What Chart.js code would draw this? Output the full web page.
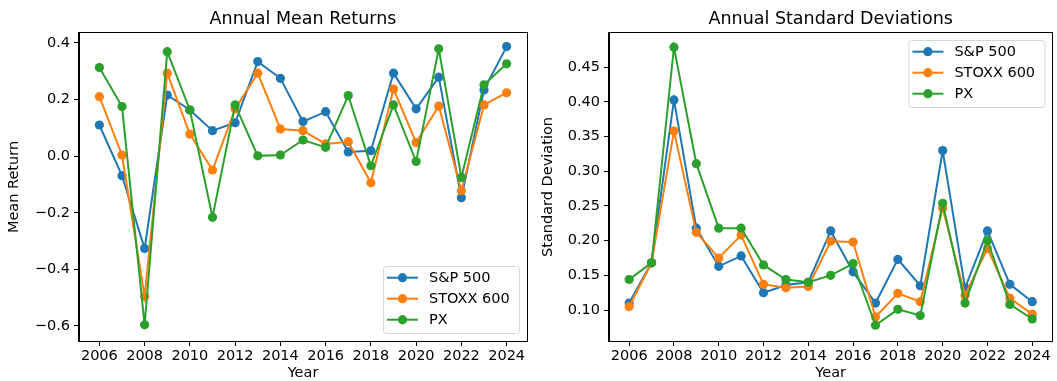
<!DOCTYPE html>
<html>
<head>
<meta charset="utf-8">
<script src="https://cdn.jsdelivr.net/npm/chart.js@4.4.1/dist/chart.umd.min.js"></script>
<style>
  html, body { margin: 0; padding: 0; background: #fff; overflow: hidden; }
  #wrap { position: relative; width: 1057px; height: 381px; }
  canvas { position: absolute; top: 0; }
</style>
</head>
<body>
<div id="wrap">
  <canvas id="returns" width="535" height="381" style="left:0"></canvas>
  <canvas id="stdev" width="522" height="381" style="left:535px"></canvas>
</div>
<script>
// ---- data -------------------------------------------------------------
const years = [2006, 2007, 2008, 2009, 2010, 2011, 2012, 2013, 2014, 2015,
               2016, 2017, 2018, 2019, 2020, 2021, 2022, 2023, 2024];
const yearTicks = [2006, 2008, 2010, 2012, 2014, 2016, 2018, 2020, 2022, 2024];
const seriesNames = ['S&P 500', 'STOXX 600', 'PX'];
const seriesColors = ['#1f77b4', '#ff7f0e', '#2ca02c'];

const meanSP    = [0.110, -0.069, -0.326, 0.216, 0.163, 0.090, 0.118, 0.334, 0.275, 0.122,
                   0.157, 0.015, 0.019, 0.293, 0.167, 0.279, -0.147, 0.234, 0.387];
const meanSTOXX = [0.210, 0.004, -0.496, 0.293, 0.078, -0.049, 0.167, 0.293, 0.096, 0.090,
                   0.043, 0.051, -0.094, 0.237, 0.048, 0.177, -0.122, 0.181, 0.224];
const meanPX    = [0.313, 0.175, -0.596, 0.369, 0.163, -0.216, 0.181, 0.001, 0.004, 0.057,
                   0.031, 0.214, -0.034, 0.181, -0.019, 0.379, -0.075, 0.252, 0.326];

const sdSP    = [0.110, 0.168, 0.403, 0.218, 0.163, 0.178, 0.125, 0.136, 0.140, 0.214,
                 0.155, 0.110, 0.173, 0.135, 0.330, 0.132, 0.214, 0.137, 0.112];
const sdSTOXX = [0.105, 0.168, 0.358, 0.212, 0.175, 0.208, 0.137, 0.132, 0.134, 0.199,
                 0.198, 0.090, 0.124, 0.112, 0.247, 0.121, 0.189, 0.117, 0.094];
const sdPX    = [0.144, 0.168, 0.479, 0.311, 0.218, 0.218, 0.165, 0.144, 0.140, 0.150,
                 0.167, 0.078, 0.101, 0.092, 0.254, 0.110, 0.200, 0.108, 0.087];

const meanTicks = [-0.6, -0.4, -0.2, 0.0, 0.2, 0.4];
const sdTicks   = [0.10, 0.15, 0.20, 0.25, 0.30, 0.35, 0.40, 0.45];

// ---- styling helpers --------------------------------------------------
const FONT = '"DejaVu Sans", "Liberation Sans", sans-serif';
const TICK_PX = 14.5;
const TEXT = '#000';

function makeDatasets(seriesList) {
  return seriesList.map((vals, i) => ({
    label: seriesNames[i],
    data: years.map((yr, k) => ({ x: yr, y: vals[k] })),
    borderColor: seriesColors[i],
    backgroundColor: seriesColors[i],
    pointBackgroundColor: seriesColors[i],
    pointBorderColor: seriesColors[i],
    pointBorderWidth: 0,
    pointRadius: 4.6,
    borderWidth: 2,
    tension: 0,
    order: seriesList.length - i   // later series are drawn on top
  }));
}

// Axes frame on all four sides
const frame = {
  id: 'frame',
  afterDatasetsDraw(chart) {
    const { ctx, chartArea: a } = chart;
    ctx.save();
    ctx.strokeStyle = '#000';
    ctx.lineWidth = 1;
    ctx.strokeRect(Math.round(a.left) - 0.5, Math.round(a.top) - 0.5,
                   Math.round(a.right - a.left) + 1, Math.round(a.bottom - a.top) + 1);
    ctx.restore();
  }
};

// Title centred over the plotting area
const areaTitle = {
  id: 'areaTitle',
  afterDraw(chart, args, opts) {
    const { ctx, chartArea: a } = chart;
    ctx.save();
    ctx.font = `${opts.size}px ${FONT}`;
    ctx.fillStyle = TEXT;
    ctx.textAlign = 'center';
    ctx.textBaseline = 'middle';
    ctx.fillText(opts.text, (a.left + a.right) / 2, opts.y);
    ctx.restore();
  }
};

// Legend box drawn inside the plotting area
const innerLegend = {
  id: 'innerLegend',
  afterDraw(chart, args, opts) {
    const { ctx, chartArea: a } = chart;
    const w = 136, h = 67, m = 8;
    const x0 = a.right - m - w;
    const y0 = opts.corner === 'bottom' ? a.bottom - m - h : a.top + 7;
    ctx.save();
    ctx.beginPath();
    ctx.roundRect(x0 + 0.5, y0 + 0.5, w, h, 3);
    ctx.fillStyle = 'rgba(255,255,255,0.8)';
    ctx.fill();
    ctx.strokeStyle = '#d6d6d6';
    ctx.lineWidth = 1;
    ctx.stroke();
    ctx.font = `${TICK_PX}px ${FONT}`;
    ctx.textBaseline = 'middle';
    ctx.textAlign = 'left';
    chart.data.datasets.forEach((ds, i) => {
      const cy = y0 + 11.7 + i * 21;
      ctx.strokeStyle = ds.borderColor;
      ctx.lineWidth = 2;
      ctx.beginPath();
      ctx.moveTo(x0 + 4, cy);
      ctx.lineTo(x0 + 35, cy);
      ctx.stroke();
      ctx.fillStyle = ds.borderColor;
      ctx.beginPath();
      ctx.arc(x0 + 19.5, cy, 4.6, 0, Math.PI * 2);
      ctx.fill();
      ctx.fillStyle = TEXT;
      ctx.fillText(ds.label, x0 + 46, cy + 0.5);
    });
    ctx.restore();
  }
};

function makeChart(id, cfg) {
  return new Chart(document.getElementById(id), {
    type: 'line',
    data: { datasets: makeDatasets(cfg.series) },
    options: {
      responsive: false,
      animation: false,
      devicePixelRatio: 1,
      layout: { padding: { top: 33, right: cfg.padRight, bottom: 0, left: 0 } },
      plugins: {
        legend: { display: false },
        tooltip: { enabled: false },
        title: { display: false },
        areaTitle: { text: cfg.title, size: 17.5, y: 19 },
        innerLegend: { corner: cfg.legendCorner }
      },
      scales: {
        x: {
          type: 'linear',
          min: 2005.1,
          max: 2024.9,
          afterBuildTicks: s => { s.ticks = yearTicks.map(v => ({ value: v })); },
          afterFit: s => { s.height = 40; },
          ticks: {
            autoSkip: false, maxRotation: 0, padding: 2, color: TEXT,
            font: { family: FONT, size: TICK_PX },
            callback: v => String(v)
          },
          grid: { drawOnChartArea: false, drawTicks: true, tickLength: 5, color: '#000', lineWidth: 1 },
          border: { display: true, color: '#000', width: 1 },
          title: {
            display: true, text: 'Year', color: TEXT,
            font: { family: FONT, size: TICK_PX, lineHeight: 1.1 },
            padding: { top: 0, bottom: 0 }
          }
        },
        y: {
          type: 'linear',
          min: cfg.yMin,
          max: cfg.yMax,
          afterBuildTicks: s => { s.ticks = cfg.yTicks.map(v => ({ value: v })); },
          afterFit: s => { s.width = cfg.yWidth; },
          ticks: {
            padding: 4, color: TEXT,
            font: { family: FONT, size: TICK_PX },
            callback: v => v.toFixed(cfg.decimals).replace('-', '\u2212')
          },
          grid: { drawOnChartArea: false, drawTicks: true, tickLength: 5, color: '#000', lineWidth: 1 },
          border: { display: true, color: '#000', width: 1 },
          title: {
            display: true, text: cfg.yTitle, color: TEXT,
            font: { family: FONT, size: TICK_PX, lineHeight: 1.2 },
            padding: { top: cfg.yTitlePad, bottom: 0 }
          }
        }
      }
    },
    plugins: [frame, areaTitle, innerLegend]
  });
}

makeChart('returns', {
  series: [meanSP, meanSTOXX, meanPX],
  title: 'Annual Mean Returns',
  yTitle: 'Mean Return',
  yTicks: meanTicks,
  yMin: -0.653, yMax: 0.435,
  decimals: 1,
  yWidth: 79, yTitlePad: 6, padRight: 8,
  legendCorner: 'bottom'
});

makeChart('stdev', {
  series: [sdSP, sdSTOXX, sdPX],
  title: 'Annual Standard Deviations',
  yTitle: 'Standard Deviation',
  yTicks: sdTicks,
  yMin: 0.0553, yMax: 0.4995,
  decimals: 2,
  yWidth: 74, yTitlePad: 5, padRight: 1,
  legendCorner: 'top'
});
</script>
</body>
</html>
